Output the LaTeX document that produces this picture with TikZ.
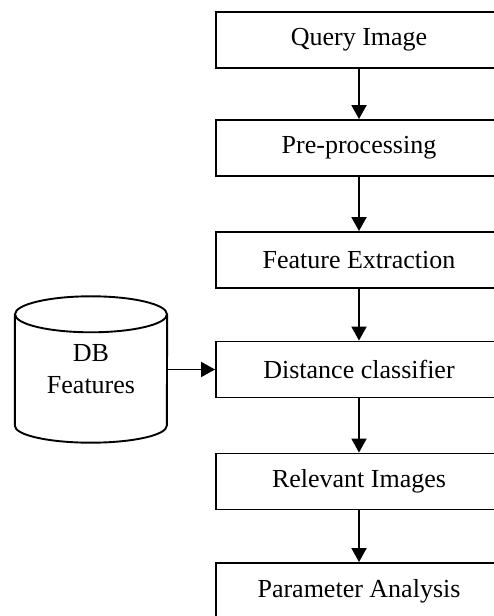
\documentclass[tikz,border=0pt]{standalone}
\usepackage{fontspec}
\setmainfont{Liberation Serif}
\usetikzlibrary{arrows.meta}
\begin{document}
\begin{tikzpicture}[x=1pt,y=1pt,
  box/.style={draw, line width=1.9pt, minimum width=286pt, minimum height=56pt, inner sep=0pt, font=\fontsize{26}{32}\selectfont},
  arr/.style={line width=1.9pt, -{Triangle[width=15pt,length=14pt]}},
  lw/.style={line width=1.9pt}]
\useasboundingbox (0,0) rectangle (494,616);
\clip (0,0) rectangle (494,616);
\node[box] (q) at (359,576) {Query Image};
\node[box] (pre) at (359,468) {Pre-processing};
\node[box] (fe) at (359,356) {Feature Extraction};
\node[box] (dc) at (359,246.5) {Distance classifier};
\node[box] (ri) at (359,134.5) {Relevant Images};
\node[box] (pa) at (359,25) {Parameter Analysis};
\node[minimum width=152pt, minimum height=146pt, inner sep=0pt, align=center, font=\fontsize{26}{32}\selectfont] (db) at (91,246.5) {DB\\Features};
\draw[lw] ([yshift=-18pt]db.north west) -- ([yshift=17pt]db.south west)
  arc[start angle=180, end angle=360, x radius=76pt, y radius=17pt]
  -- ([yshift=-18pt]db.north east);
\draw[lw] ([yshift=-18pt]db.north) ellipse [x radius=76pt, y radius=18pt];
\draw[arr] (q) -- (pre);
\draw[arr] (pre) -- (fe);
\draw[arr] (fe) -- (dc);
\draw[arr] (dc) -- (ri);
\draw[arr] (ri) -- (pa);
\draw[arr] (db.east) -- (dc.west);
\end{tikzpicture}
\end{document}
